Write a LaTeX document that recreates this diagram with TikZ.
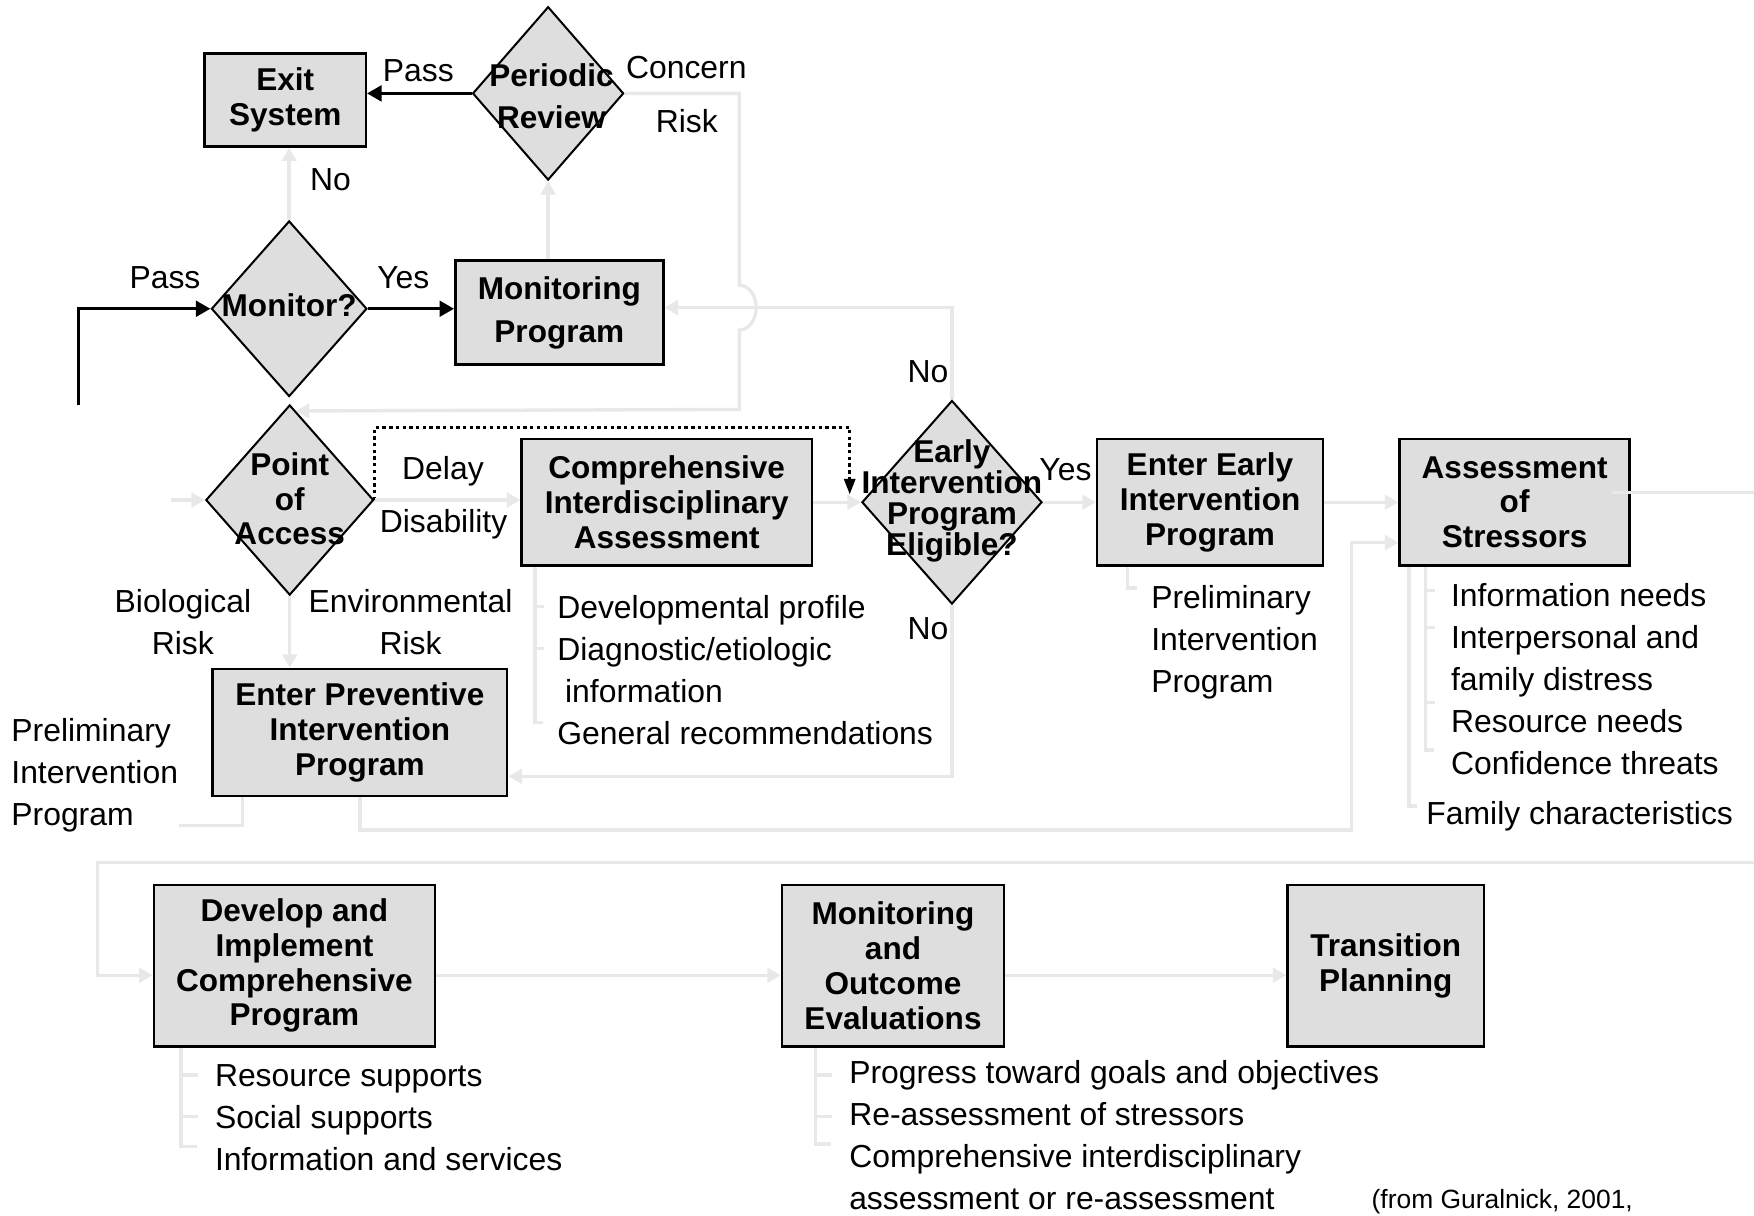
\documentclass[tikz,border=0pt]{standalone}
\usepackage{fontspec}
\setmainfont{Liberation Sans}
\usetikzlibrary{shapes.geometric, arrows.meta}

\definecolor{boxgray}{gray}{0.87}
\definecolor{linegray}{gray}{0.91}

\tikzset{
    every node/.style={inner sep=0pt, font=\fontsize{28.5}{37.7}\selectfont},
    procbox/.style={draw=black, line width=2.2pt, fill=boxgray, align=center,
        font=\fontsize{28.2}{31}\selectfont\bfseries},
    decision/.style={diamond, draw=black, line width=1.8pt, fill=boxgray},
    dtext/.style={align=center, font=\fontsize{28.2}{31}\selectfont\bfseries},
    flowline/.style={draw=linegray, line width=3pt},
    flowarrow/.style={flowline, -{Triangle[length=12pt, width=13pt]}},
    mainarrow/.style={line width=2.8pt, -{Triangle[length=13pt, width=14pt]}},
    dotarrow/.style={line width=2.6pt, dash pattern=on 3pt off 3pt, -{Triangle[length=14pt, width=10pt]}},
    notes/.style={align=left, anchor=north west},
}

\begin{document}
    \begin{tikzpicture}[x=1pt, y=-1pt]
        \useasboundingbox (0,0) rectangle (1568,1087);

        % screening part
        \node[procbox, minimum width=144pt, minimum height=83pt] (exit) at (255,89.5) {Exit\\System};
        \node[decision, minimum width=135pt, minimum height=155pt] (periodic) at (490,83.5) {};
        \node[dtext] (periodictxt) at (493,86) {Periodic\\[6pt]Review};
        \node[decision, minimum width=139pt, minimum height=157pt] (monitor) at (258.5,276) {};
        \node[dtext] (monitortxt) at (258.5,273) {Monitor?};
        \node[procbox, minimum width=186pt, minimum height=93pt] (monprog) at (500,279.5) {Monitoring\\[7pt]Program};
        \node[decision, minimum width=150pt, minimum height=170pt] (access) at (259,447) {};
        \node[dtext] (accesstxt) at (259,446) {Point\\of\\Access};
        \node[procbox, minimum width=259.5pt, minimum height=113pt] (comp) at (596,449) {Comprehensive\\Interdisciplinary\\Assessment};
        \node[decision, minimum width=161pt, minimum height=182pt] (early) at (851,449) {};
        \node[dtext, font=\fontsize{28.2}{27.7}\selectfont\bfseries] (earlytxt) at (851,447.5) {Early\\Intervention\\Program\\Eligible?};
        \node[procbox, minimum width=202pt, minimum height=113pt] (enterearly) at (1081.7,449) {Enter Early\\Intervention\\Program};
        \node[procbox, minimum width=205.6pt, minimum height=113pt] (stress) at (1354,449) {Assessment\\of\\Stressors};
        \node[procbox, minimum width=263.3pt, minimum height=113.3pt] (prev) at (321.7,654.7) {Enter Preventive\\Intervention\\Program};

        % program part
        \node[procbox, minimum width=251.5pt, minimum height=144.7pt] (develop) at (263.2,863.3) {Develop and\\Implement\\Comprehensive\\Program};
        \node[procbox, minimum width=198.6pt, minimum height=144.7pt] (moneval) at (798.3,863.3) {Monitoring\\and\\Outcome\\Evaluations};
        \node[procbox, minimum width=175.7pt, minimum height=144.7pt] (transition) at (1238.8,863.3) {Transition\\Planning};

        % branch labels
        \node (passexit) at (374,63) {Pass};
        \node (concern) at (613.5,60) {Concern};
        \node (risk) at (614,108) {Risk};
        \node (noexit) at (295.5,161) {No};
        \node (passin) at (147.5,248) {Pass};
        \node (yesmon) at (360.5,248) {Yes};
        \node (nomon) at (829.5,332) {No};
        \node (delay) at (396,421) {Delay};
        \node (disab) at (396.5,469) {Disability};
        \node (yesearly) at (952.5,420) {Yes};
        \node (noprev) at (829.5,562) {No};
        \node[align=center] (biorisk) at (163.5,556) {Biological\\Risk};
        \node[align=center] (envrisk) at (367,556) {Environmental\\Risk};

        % item lists
        \node[notes] (prevnotes) at (10,642) {Preliminary\\Intervention\\Program};
        \node[notes] (compnotes) at (498,532) {Developmental profile\\Diagnostic/etiologic\\\hspace*{7pt}information\\General recommendations};
        \node[notes] (earlynotes) at (1029,523) {Preliminary\\Intervention\\Program};
        \node[notes] (stressnotes) at (1297,521) {Information needs\\Interpersonal and\\family distress\\Resource needs\\Confidence threats};
        \node[anchor=west] (famchar) at (1275,730) {Family characteristics};
        \node[notes] (devnotes) at (192,951.5) {Resource supports\\Social supports\\Information and services};
        \node[notes] (evalnotes) at (759,947.5) {Progress toward goals and objectives\\Re-assessment of stressors\\Comprehensive interdisciplinary\\assessment or re-assessment};
        \node[anchor=base west, font=\fontsize{23.6}{28}\selectfont] (source) at (1226,1080) {(from Guralnick, 2001,};

        \coordinate (entry) at (70,362);
        \coordinate (feed) at (153,447);
        \coordinate (offright) at (1580,440.5);
        \coordinate (backin) at (1580,771);

        % black arrows
        \draw[mainarrow] (periodic.west) -- (periodic.west -| exit.east);
        \draw[mainarrow] (entry) |- (monitor.west);
        \draw[mainarrow] (monitor.east) -- (monitor.east -| monprog.west);
        \draw[dotarrow] (access.east) -- ++(0,-65) -| ([xshift=-10pt, yshift=7pt]early.west);

        % grey connectors
        \draw[flowarrow] (monitor.north) -- (monitor.north |- exit.south);
        \draw[flowarrow] (periodic.south |- monprog.north) -- (periodic.south);
        \draw[flowarrow] (periodic.east) -| (661,255) arc[start angle=90, end angle=-90, x radius=15pt, y radius=20pt] -- (661,366) -- (access.86);
        \draw[flowarrow] (early.north) |- ([yshift=4.5pt]monprog.east);
        \draw[flowarrow] (feed) -- (access.west);
        \draw[flowarrow] (access.east) -- (access.east -| comp.west);
        \draw[flowarrow] (comp.east) -- (early.west);
        \draw[flowarrow] (early.east) -- (enterearly.west);
        \draw[flowarrow] (enterearly.east) -- (stress.west);
        \draw[flowarrow] (access.south) -- (access.south |- prev.north);
        \draw[flowarrow] (early.south) |- ([yshift=18.5pt]prev.south east);
        \draw[flowarrow] (prev.south) |- (1208,742) |- ([yshift=21.5pt]stress.south west);
        \draw[flowline] ([xshift=-17pt, yshift=8.5pt]stress.east) -- (offright);
        \draw[flowarrow] (backin) -- (87,771) |- ([yshift=-8.5pt]develop.west);
        \draw[flowarrow] ([yshift=-8.5pt]develop.east) -- ([yshift=-8.5pt]moneval.west);
        \draw[flowarrow] ([yshift=-8.5pt]moneval.east) -- ([yshift=-8.5pt]transition.west);

        % list brackets
        \draw[flowline] (prev.south west) ++(28,0) -- ++(0,25.5) -- ++(-57,0);
        \draw[flowline] (comp.south west) ++(13,0) -- ++(0,139) -- ++(7,0);
        \foreach \ty in {542,580} \draw[flowline] (479.5,\ty) -- ++(7,0);
        \draw[flowline] (enterearly.south west) ++(28.5,0) -- ++(0,19) -- ++(8,0);
        \draw[flowline] (stress.south west) ++(9.5,0) -- ++(0,214) -- ++(7,0);
        \draw[flowline] (stress.south west) ++(24.5,0) -- ++(0,164) -- ++(7,0);
        \foreach \ty in {528,561,628} \draw[flowline] (1275.9,\ty) -- ++(7,0);
        \draw[flowline] (develop.south west) ++(25.5,0) -- ++(0,88) -- ++(14,0);
        \foreach \ty in {961,998} \draw[flowline] (163,\ty) -- ++(14,0);
        \draw[flowline] (moneval.south west) ++(31,0) -- ++(0,86) -- ++(14,0);
        \foreach \ty in {961,998} \draw[flowline] (730,\ty) -- ++(14,0);
    \end{tikzpicture}
\end{document}
